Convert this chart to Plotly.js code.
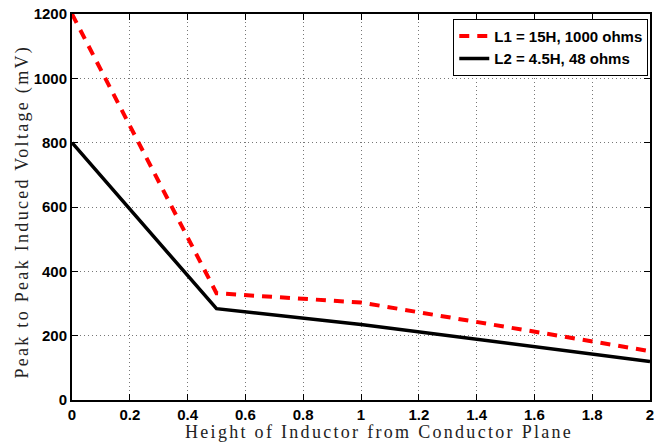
<!DOCTYPE html>
<html>
<head>
<meta charset="utf-8">
<script src="https://cdn.plot.ly/plotly-3.0.1.min.js"></script>
<style>
html,body{margin:0;padding:0;background:#fff;}
#chart{width:662px;height:443px;}
.annotation-text{letter-spacing:2.3px;}
.xtick text,.ytick text,.legendtext{font-weight:bold !important;}
</style>
</head>
<body>
<div id="chart"></div>
<script>
var heightX = [0, 0.5, 1, 2];
var l1Values = [1200, 332, 303, 152];
var l2Values = [800, 284, 235, 120];
var seriesNames = ['L1 = 15H, 1000 ohms', 'L2 = 4.5H, 48 ohms'];
var xTicks = [0, 0.2, 0.4, 0.6, 0.8, 1, 1.2, 1.4, 1.6, 1.8, 2];
var yTicks = [0, 200, 400, 600, 800, 1000, 1200];
var xTitle = 'Height of Inductor from Conductor Plane';
var yTitle = 'Peak to Peak Induced Voltage (mV)';

var traces = [
  {x: heightX, y: l1Values, name: seriesNames[0], mode: 'lines',
   line: {color: '#ff0000', width: 4, dash: '10px,8px'}},
  {x: heightX, y: l2Values, name: seriesNames[1], mode: 'lines',
   line: {color: '#000000', width: 3.5}}
];

var tickFont = {family: 'Liberation Sans, Arial, sans-serif', size: 15, color: '#000', weight: 'bold'};
var titleFont = {family: 'Liberation Serif, serif', size: 18, color: '#222', weight: 'normal'};

var axisCommon = {
  showline: true, linecolor: '#000', linewidth: 2, mirror: 'ticks',
  ticks: 'inside', ticklen: 6, tickwidth: 1, tickcolor: '#000',
  showgrid: true, gridcolor: '#777', griddash: '1px,3px', gridwidth: 1,
  zeroline: false,
  tickfont: tickFont
};

var layout = {
  width: 662, height: 443,
  font: {family: 'Liberation Sans, Arial, sans-serif', size: 15, color: '#000', weight: 'bold'},
  margin: {l: 72, r: 12, t: 14, b: 43},
  paper_bgcolor: '#fff', plot_bgcolor: '#fff',
  showlegend: true,
  legend: {x: 0.997, y: 0.988, xanchor: 'right', yanchor: 'top',
    bgcolor: '#fff', bordercolor: '#000', borderwidth: 1,
    font: {family: 'Liberation Sans, Arial, sans-serif', size: 15, color: '#000', weight: 'bold'},
    tracegroupgap: 0},
  xaxis: Object.assign({}, axisCommon, {
    range: [0, 2], tickvals: xTicks, ticktext: xTicks.map(String)
  }),
  yaxis: Object.assign({}, axisCommon, {
    range: [0, 1200], tickvals: yTicks, ticktext: yTicks.map(String)
  }),
  annotations: [
    {text: xTitle, xref: 'paper', yref: 'paper', x: 0.532, y: -0.083,
     xanchor: 'center', yanchor: 'middle', showarrow: false, font: titleFont},
    {text: yTitle, xref: 'paper', yref: 'paper', x: -0.0848, y: 0.488, textangle: -90,
     xanchor: 'center', yanchor: 'middle', showarrow: false, font: titleFont}
  ]
};

Plotly.newPlot('chart', traces, layout, {displayModeBar: false, staticPlot: true});
</script>
</body>
</html>
